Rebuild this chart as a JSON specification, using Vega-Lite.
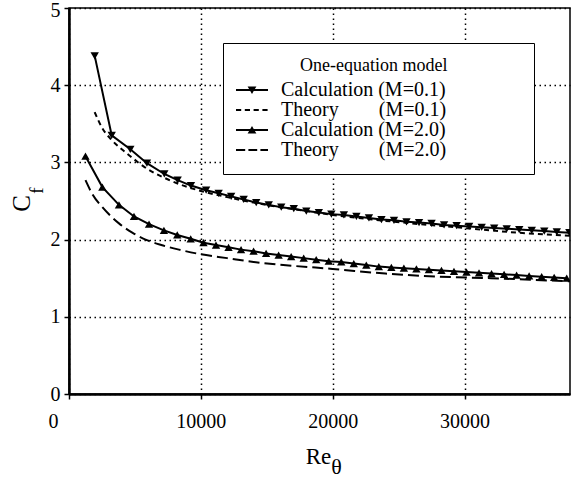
{
  "$schema": "https://vega.github.io/schema/vega-lite/v6.json",
  "width": 501,
  "height": 386,
  "autosize": {"type": "none"},
  "padding": {"left": 69, "top": 8, "right": 11, "bottom": 84},
  "background": "white",
  "config": {
    "font": "Liberation Serif",
    "view": {"stroke": "black", "strokeWidth": 1.5},
    "axis": {"labelFont": "Liberation Serif", "titleFont": "Liberation Serif", "labelColor": "black", "titleColor": "black", "titleFontWeight": "normal"}
  },
  "datasets": {
    "rows": [
      {"series": "calc01", "kind": "calc", "Re": 1950, "Cf": 4.38},
      {"series": "calc01", "kind": "calc", "Re": 3240, "Cf": 3.35},
      {"series": "calc01", "kind": "calc", "Re": 4650, "Cf": 3.17},
      {"series": "calc01", "kind": "calc", "Re": 5910, "Cf": 2.99},
      {"series": "calc01", "kind": "calc", "Re": 7230, "Cf": 2.85},
      {"series": "calc01", "kind": "calc", "Re": 8240, "Cf": 2.77},
      {"series": "calc01", "kind": "calc", "Re": 9250, "Cf": 2.70},
      {"series": "calc01", "kind": "calc", "Re": 10400, "Cf": 2.64},
      {"series": "calc01", "kind": "calc", "Re": 11350, "Cf": 2.60},
      {"series": "calc01", "kind": "calc", "Re": 12300, "Cf": 2.56},
      {"series": "calc01", "kind": "calc", "Re": 13250, "Cf": 2.52},
      {"series": "calc01", "kind": "calc", "Re": 14200, "Cf": 2.48},
      {"series": "calc01", "kind": "calc", "Re": 15150, "Cf": 2.45},
      {"series": "calc01", "kind": "calc", "Re": 16100, "Cf": 2.42},
      {"series": "calc01", "kind": "calc", "Re": 17050, "Cf": 2.40},
      {"series": "calc01", "kind": "calc", "Re": 18000, "Cf": 2.37},
      {"series": "calc01", "kind": "calc", "Re": 18950, "Cf": 2.35},
      {"series": "calc01", "kind": "calc", "Re": 19900, "Cf": 2.33},
      {"series": "calc01", "kind": "calc", "Re": 20850, "Cf": 2.32},
      {"series": "calc01", "kind": "calc", "Re": 21800, "Cf": 2.30},
      {"series": "calc01", "kind": "calc", "Re": 22750, "Cf": 2.28},
      {"series": "calc01", "kind": "calc", "Re": 23700, "Cf": 2.26},
      {"series": "calc01", "kind": "calc", "Re": 24650, "Cf": 2.25},
      {"series": "calc01", "kind": "calc", "Re": 25600, "Cf": 2.23},
      {"series": "calc01", "kind": "calc", "Re": 26550, "Cf": 2.22},
      {"series": "calc01", "kind": "calc", "Re": 27500, "Cf": 2.21},
      {"series": "calc01", "kind": "calc", "Re": 28450, "Cf": 2.19},
      {"series": "calc01", "kind": "calc", "Re": 29400, "Cf": 2.18},
      {"series": "calc01", "kind": "calc", "Re": 30350, "Cf": 2.17},
      {"series": "calc01", "kind": "calc", "Re": 31300, "Cf": 2.16},
      {"series": "calc01", "kind": "calc", "Re": 32250, "Cf": 2.15},
      {"series": "calc01", "kind": "calc", "Re": 33200, "Cf": 2.14},
      {"series": "calc01", "kind": "calc", "Re": 34150, "Cf": 2.13},
      {"series": "calc01", "kind": "calc", "Re": 35100, "Cf": 2.12},
      {"series": "calc01", "kind": "calc", "Re": 36050, "Cf": 2.11},
      {"series": "calc01", "kind": "calc", "Re": 37000, "Cf": 2.10},
      {"series": "calc01", "kind": "calc", "Re": 37950, "Cf": 2.09},

      {"series": "theory01", "kind": "theory", "Re": 1950, "Cf": 3.65},
      {"series": "theory01", "kind": "theory", "Re": 2500, "Cf": 3.45},
      {"series": "theory01", "kind": "theory", "Re": 3240, "Cf": 3.29},
      {"series": "theory01", "kind": "theory", "Re": 4000, "Cf": 3.17},
      {"series": "theory01", "kind": "theory", "Re": 4650, "Cf": 3.08},
      {"series": "theory01", "kind": "theory", "Re": 5900, "Cf": 2.92},
      {"series": "theory01", "kind": "theory", "Re": 7230, "Cf": 2.80},
      {"series": "theory01", "kind": "theory", "Re": 8500, "Cf": 2.71},
      {"series": "theory01", "kind": "theory", "Re": 10000, "Cf": 2.63},
      {"series": "theory01", "kind": "theory", "Re": 12000, "Cf": 2.55},
      {"series": "theory01", "kind": "theory", "Re": 14000, "Cf": 2.48},
      {"series": "theory01", "kind": "theory", "Re": 16000, "Cf": 2.42},
      {"series": "theory01", "kind": "theory", "Re": 18000, "Cf": 2.37},
      {"series": "theory01", "kind": "theory", "Re": 20000, "Cf": 2.32},
      {"series": "theory01", "kind": "theory", "Re": 23000, "Cf": 2.26},
      {"series": "theory01", "kind": "theory", "Re": 26000, "Cf": 2.21},
      {"series": "theory01", "kind": "theory", "Re": 30000, "Cf": 2.15},
      {"series": "theory01", "kind": "theory", "Re": 34000, "Cf": 2.09},
      {"series": "theory01", "kind": "theory", "Re": 38000, "Cf": 2.05},

      {"series": "calc20", "kind": "calc", "Re": 1250, "Cf": 3.08},
      {"series": "calc20", "kind": "calc", "Re": 2530, "Cf": 2.68},
      {"series": "calc20", "kind": "calc", "Re": 3790, "Cf": 2.45},
      {"series": "calc20", "kind": "calc", "Re": 4930, "Cf": 2.30},
      {"series": "calc20", "kind": "calc", "Re": 6070, "Cf": 2.20},
      {"series": "calc20", "kind": "calc", "Re": 7200, "Cf": 2.12},
      {"series": "calc20", "kind": "calc", "Re": 8210, "Cf": 2.06},
      {"series": "calc20", "kind": "calc", "Re": 9230, "Cf": 2.01},
      {"series": "calc20", "kind": "calc", "Re": 10200, "Cf": 1.96},
      {"series": "calc20", "kind": "calc", "Re": 11150, "Cf": 1.93},
      {"series": "calc20", "kind": "calc", "Re": 12100, "Cf": 1.90},
      {"series": "calc20", "kind": "calc", "Re": 13050, "Cf": 1.87},
      {"series": "calc20", "kind": "calc", "Re": 14000, "Cf": 1.85},
      {"series": "calc20", "kind": "calc", "Re": 14950, "Cf": 1.82},
      {"series": "calc20", "kind": "calc", "Re": 15900, "Cf": 1.80},
      {"series": "calc20", "kind": "calc", "Re": 16850, "Cf": 1.78},
      {"series": "calc20", "kind": "calc", "Re": 17800, "Cf": 1.76},
      {"series": "calc20", "kind": "calc", "Re": 18750, "Cf": 1.74},
      {"series": "calc20", "kind": "calc", "Re": 19700, "Cf": 1.72},
      {"series": "calc20", "kind": "calc", "Re": 20650, "Cf": 1.71},
      {"series": "calc20", "kind": "calc", "Re": 21600, "Cf": 1.69},
      {"series": "calc20", "kind": "calc", "Re": 22550, "Cf": 1.67},
      {"series": "calc20", "kind": "calc", "Re": 23500, "Cf": 1.65},
      {"series": "calc20", "kind": "calc", "Re": 24450, "Cf": 1.64},
      {"series": "calc20", "kind": "calc", "Re": 25400, "Cf": 1.63},
      {"series": "calc20", "kind": "calc", "Re": 26350, "Cf": 1.62},
      {"series": "calc20", "kind": "calc", "Re": 27300, "Cf": 1.61},
      {"series": "calc20", "kind": "calc", "Re": 28250, "Cf": 1.60},
      {"series": "calc20", "kind": "calc", "Re": 29200, "Cf": 1.59},
      {"series": "calc20", "kind": "calc", "Re": 30150, "Cf": 1.58},
      {"series": "calc20", "kind": "calc", "Re": 31100, "Cf": 1.57},
      {"series": "calc20", "kind": "calc", "Re": 32050, "Cf": 1.56},
      {"series": "calc20", "kind": "calc", "Re": 33000, "Cf": 1.55},
      {"series": "calc20", "kind": "calc", "Re": 33950, "Cf": 1.54},
      {"series": "calc20", "kind": "calc", "Re": 34900, "Cf": 1.53},
      {"series": "calc20", "kind": "calc", "Re": 35850, "Cf": 1.52},
      {"series": "calc20", "kind": "calc", "Re": 36800, "Cf": 1.51},
      {"series": "calc20", "kind": "calc", "Re": 37750, "Cf": 1.50},

      {"series": "theory20", "kind": "theory", "Re": 1250, "Cf": 2.77},
      {"series": "theory20", "kind": "theory", "Re": 1800, "Cf": 2.58},
      {"series": "theory20", "kind": "theory", "Re": 2530, "Cf": 2.42},
      {"series": "theory20", "kind": "theory", "Re": 3200, "Cf": 2.30},
      {"series": "theory20", "kind": "theory", "Re": 3790, "Cf": 2.21},
      {"series": "theory20", "kind": "theory", "Re": 4800, "Cf": 2.09},
      {"series": "theory20", "kind": "theory", "Re": 5810, "Cf": 2.00},
      {"series": "theory20", "kind": "theory", "Re": 7000, "Cf": 1.93},
      {"series": "theory20", "kind": "theory", "Re": 8340, "Cf": 1.87},
      {"series": "theory20", "kind": "theory", "Re": 10000, "Cf": 1.81},
      {"series": "theory20", "kind": "theory", "Re": 12000, "Cf": 1.76},
      {"series": "theory20", "kind": "theory", "Re": 14000, "Cf": 1.71},
      {"series": "theory20", "kind": "theory", "Re": 17000, "Cf": 1.66},
      {"series": "theory20", "kind": "theory", "Re": 20000, "Cf": 1.62},
      {"series": "theory20", "kind": "theory", "Re": 24000, "Cf": 1.56},
      {"series": "theory20", "kind": "theory", "Re": 28000, "Cf": 1.52},
      {"series": "theory20", "kind": "theory", "Re": 32000, "Cf": 1.50},
      {"series": "theory20", "kind": "theory", "Re": 35000, "Cf": 1.48},
      {"series": "theory20", "kind": "theory", "Re": 38000, "Cf": 1.46}
    ]
  },
  "data": {"name": "rows"},
  "layer": [
    {
      "transform": [{"filter": "datum.kind === 'calc'"}],
      "mark": {"type": "line", "color": "black", "strokeWidth": 2, "clip": true},
      "encoding": {
        "x": {
          "field": "Re", "type": "quantitative",
          "scale": {"domain": [0, 38000], "nice": false, "zero": false},
          "axis": {
            "title": "Re", "values": [0, 10000, 20000, 30000], "format": "d",
            "grid": true, "gridDash": [1.5, 3.5], "gridColor": "black", "gridWidth": 1.5, "gridOpacity": 1,
            "tickSize": 5, "tickColor": "black", "tickWidth": 1.5,
            "domainColor": "black", "domainWidth": 2.5,
            "labelFontSize": 20, "labelPadding": 12, "labelFlush": false,
            "labelOffset": {"condition": {"test": "datum.value === 0", "value": -16}, "value": 0},
            "titleFontSize": 23, "titleX": 249, "titleY": 62, "titleAlign": "center", "titleBaseline": "middle"
          }
        },
        "y": {
          "field": "Cf", "type": "quantitative",
          "scale": {"domain": [0, 5], "nice": false},
          "axis": {
            "title": "C", "values": [0, 1, 2, 3, 4, 5], "format": "d",
            "grid": true, "gridDash": [1.5, 3.5], "gridColor": "black", "gridWidth": 1.5, "gridOpacity": 1,
            "tickSize": 5, "tickColor": "black", "tickWidth": 1.5,
            "domainColor": "black", "domainWidth": 2.5,
            "labelFontSize": 20, "labelPadding": 4, "labelFlush": false,
            "labelOffset": {"condition": {"test": "datum.value === 5", "value": 2}, "value": 0},
            "titleFontSize": 25, "titleAngle": -90, "titleX": -48, "titleY": 195, "titleAlign": "center", "titleBaseline": "middle"
          }
        },
        "detail": {"field": "series"}
      }
    },
    {
      "transform": [{"filter": "datum.series === 'calc01'"}],
      "mark": {"type": "point", "shape": "triangle-down", "filled": true, "color": "black", "size": 70, "opacity": 1, "clip": true},
      "encoding": {
        "x": {"field": "Re", "type": "quantitative", "axis": null},
        "y": {"field": "Cf", "type": "quantitative", "axis": null}
      }
    },
    {
      "transform": [{"filter": "datum.series === 'calc20'"}],
      "mark": {"type": "point", "shape": "triangle-up", "filled": true, "color": "black", "size": 70, "opacity": 1, "clip": true},
      "encoding": {
        "x": {"field": "Re", "type": "quantitative", "axis": null},
        "y": {"field": "Cf", "type": "quantitative", "axis": null}
      }
    },
    {
      "transform": [{"filter": "datum.kind === 'theory'"}],
      "mark": {"type": "line", "color": "black", "strokeWidth": 2, "interpolate": "monotone", "clip": true},
      "encoding": {
        "x": {
          "field": "Re", "type": "quantitative",
          "axis": {"title": "θ", "labels": false, "ticks": false, "domain": false, "grid": false, "orient": "bottom",
                   "titleFontSize": 22, "titleX": 267, "titleY": 72, "titleAlign": "center", "titleBaseline": "middle"}
        },
        "y": {
          "field": "Cf", "type": "quantitative",
          "axis": {"title": "f", "labels": false, "ticks": false, "domain": false, "grid": false, "orient": "left",
                   "titleFontSize": 19, "titleAngle": -90, "titleX": -33, "titleY": 182, "titleAlign": "center", "titleBaseline": "middle"}
        },
        "detail": {"field": "series"},
        "strokeDash": {
          "field": "series", "type": "nominal",
          "scale": {"domain": ["theory01", "theory20"], "range": [[5, 4], [11, 5]]},
          "legend": null
        }
      }
    },
    {
      "mark": {"type": "point", "filled": true, "opacity": 0, "color": "black"},
      "encoding": {
        "x": {"field": "Re", "type": "quantitative", "axis": null},
        "y": {"field": "Cf", "type": "quantitative", "axis": null},
        "shape": {
          "field": "series", "type": "nominal",
          "scale": {
            "domain": ["calc01", "theory01", "calc20", "theory20"],
            "range": [
              "M-2,-0.12H2V0.12H-2ZM-0.55,-0.45L0.55,-0.45L0,0.5Z",
              "M-2,-0.12H-1.35V0.12H-2ZM-0.9,-0.12H-0.25V0.12H-0.9ZM0.2,-0.12H0.85V0.12H0.2ZM1.3,-0.12H1.95V0.12H1.3Z",
              "M-2,-0.12H2V0.12H-2ZM0.55,0.45L-0.55,0.45L0,-0.5Z",
              "M-2,-0.12H-0.85V0.12H-2ZM-0.45,-0.12H0.65V0.12H-0.45ZM1.05,-0.12H2V0.12H1.05Z"
            ]
          },
          "legend": {
            "orient": "none", "legendX": 154, "legendY": 35,
            "title": "\u200d\u00a0\u00a0\u00a0\u00a0\u00a0\u00a0\u00a0\u00a0\u00a0\u00a0\u00a0\u00a0\u00a0\u00a0One-equation model\u00a0\u00a0\u00a0\u00a0\u00a0\u00a0\u00a0\u00a0\u00a0\u00a0\u00a0\u00a0\u00a0\u00a0\u00a0\u00a0\u200d",
            "titleLimit": 500,
            "titleAnchor": "start", "titleFont": "Liberation Serif", "titleFontSize": 18, "titleFontWeight": "normal", "titleColor": "black", "titlePadding": 5,
            "labelFont": "Liberation Serif", "labelFontSize": 20, "labelColor": "black",
            "labelExpr": "datum.value === 'calc01' ? 'Calculation (M=0.1)' : datum.value === 'theory01' ? 'Theory\u00a0\u00a0\u00a0\u00a0\u00a0\u00a0\u00a0\u00a0(M=0.1)' : datum.value === 'calc20' ? 'Calculation (M=2.0)' : 'Theory\u00a0\u00a0\u00a0\u00a0\u00a0\u00a0\u00a0\u00a0(M=2.0)'",
            "labelLimit": 400, "labelOffset": 19, "symbolOffset": 5,
            "symbolSize": 256, "symbolOpacity": 1, "symbolStrokeWidth": 0, "symbolFillColor": "black",
            "strokeColor": "black", "fillColor": "white", "padding": 14, "rowPadding": -2
          }
        }
      }
    }
  ],
  "resolve": {"axis": {"x": "independent", "y": "independent"}}
}
